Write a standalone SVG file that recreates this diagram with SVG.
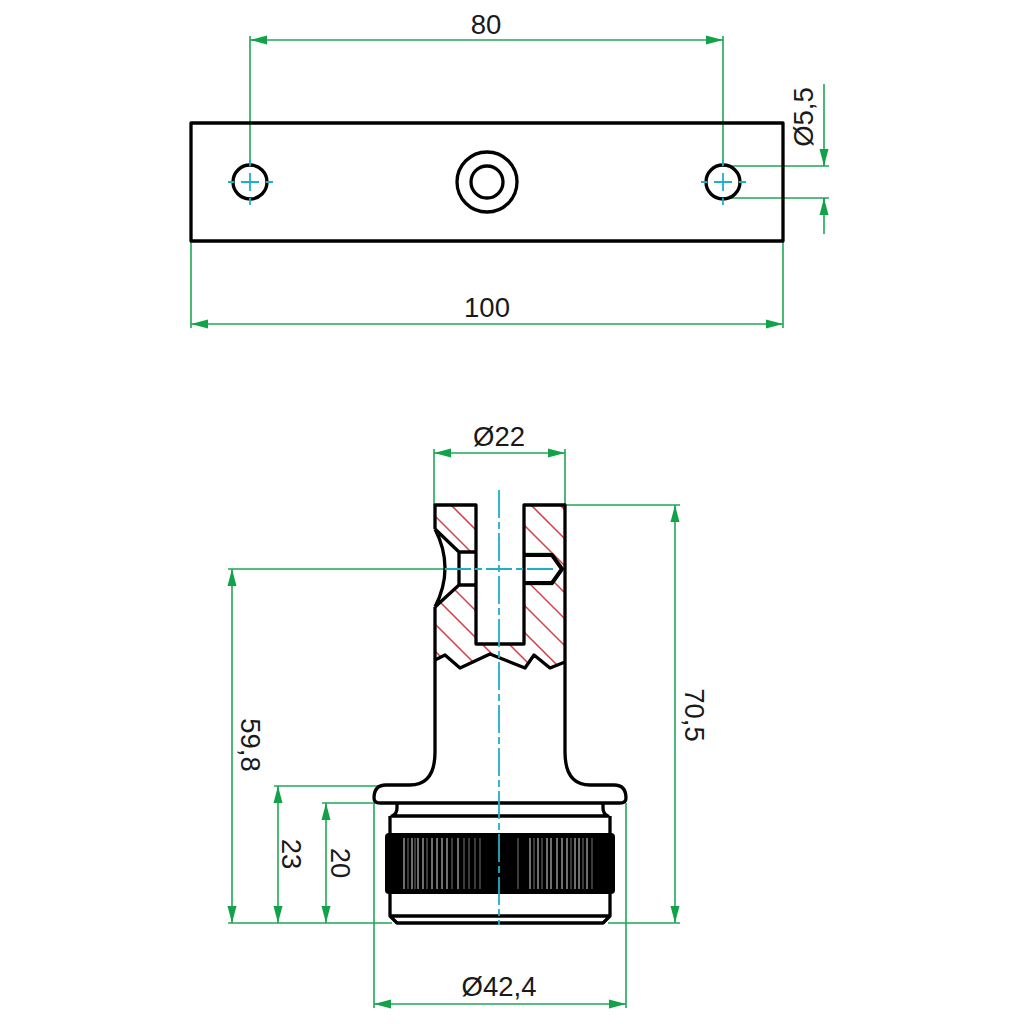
<svg xmlns="http://www.w3.org/2000/svg" width="1024" height="1024" viewBox="0 0 1024 1024">
<style>
.o{fill:none;stroke:#000;stroke-width:3.3;stroke-linejoin:round}
.d{fill:none;stroke:#1fa855;stroke-width:1.6}
.a{marker-start:url(#as);marker-end:url(#ae)}
.c{fill:none;stroke:#1fb0c6;stroke-width:1.8}
.h{stroke:#d83a42;stroke-width:1.5}
.k{stroke:#ddd;stroke-width:1}
.k2{stroke:#777;stroke-width:1}
text{font-family:"Liberation Sans",Arial,sans-serif;font-size:27.5px;fill:#1a1a1a;text-anchor:middle}
</style>
<defs>
<marker id="ae" markerUnits="userSpaceOnUse" markerWidth="18" markerHeight="10" refX="17" refY="5" orient="auto"><path d="M0 .5L17 5L0 9.500z" fill="#12a34a"/></marker>
<marker id="as" markerUnits="userSpaceOnUse" markerWidth="18" markerHeight="10" refX="1" refY="5" orient="auto"><path d="M18 .5L1 5L18 9.500z" fill="#12a34a"/></marker>
<clipPath id="sec"><path d="M435 505H476V552H459L435 529zM524 505H565V660L550 668L534 655L525 668L490 654L460 668L445 655L435 660V607L459 585H476V644H524V583H552L562 569L552 555H524z"/></clipPath>
</defs>
<g id="connectors">
<path class="d a" d="M250 40H723"/><path class="d" d="M250 36V165M723 36V165"/>
<path class="d a" d="M191 324H783"/><path class="d" d="M191 241V328M783 241V328"/>
<path class="d" d="M824 84V166M824 198V234M723 166H829M723 198H829"/>
<path class="d" d="M824 149V166" marker-end="url(#ae)"/><path class="d" d="M824 215V198" marker-end="url(#ae)"/>
<path class="d a" d="M434 453H565"/><path class="d" d="M434 449V505M565 449V505"/>
<path class="d a" d="M675 505V923"/><path class="d" d="M565 505H680M608 923H680"/>
<path class="d a" d="M232 569V923"/><path class="d" d="M228 569H445M228 923H392"/>
<path class="d a" d="M278 786V923"/><path class="d" d="M274 786H380"/>
<path class="d a" d="M326 803V923"/><path class="d" d="M322 803H376"/>
<path class="d a" d="M374 1004H626"/><path class="d" d="M374 803V1008M626 803V1008"/>
<path class="d" d="M524 553.500H553M524 584.500H553"/>
</g>
<g id="plate">
<rect class="o" x="191" y="123" width="592" height="118"/>
<circle class="o" cx="250" cy="182" r="17"/><circle class="o" cx="723" cy="182" r="17"/>
<circle class="o" cx="487" cy="182" r="30"/><circle class="o" cx="487" cy="182" r="16"/>
<path class="c" d="M250 173V191M241 182H259M250 160V166M250 198V205M228 182H234M266 182H273M723 173V191M714 182H732M723 160V166M723 198V205M701 182H707M739 182H746"/>
</g>
<g id="section">
<g clip-path="url(#sec)">
<path class="h" d="M505 450L720 665M476 450L691 665M449 450L664 665M422 450L637 665M396 450L611 665M369 450L584 665M342 450L557 665M315 450L530 665M288 450L503 665M261 450L476 665M234 450L449 665"/>
</g>
<path class="o" d="M435 529V505H476V644H524V505H565V662M435 607V660"/>
<path class="o" d="M435 660L445 655L460 668L490 654L525 668L534 655L550 668L565 662"/>
<path class="o" d="M435 529Q455 568 435 607M435 529L459 552H476M459 552V585M435 607L459 585H476"/>
<path class="o" style="stroke-width:4" d="M524 555H552L562 569L552 583H524"/>
</g>
<g id="base">
<path class="o" d="M435 660V752C435 772 428 785 410 785H386Q374 785 374 798Q374 803 380 803H620Q626 803 626 798Q626 785 614 785H590C572 785 565 772 565 752V662"/>
<path class="o" d="M397 803V808Q397 814 392 816H608Q603 814 603 808V803"/>
<path class="o" d="M390 816V833M610 816V833M390 894V916L397 923H603L610 916V894M390 916H610"/>
<rect x="385" y="833" width="230" height="61" rx="4" fill="#000"/>
<path class="k" d="M404 838V889M412 838V889M418 838V889M423 838V889M432 838V889M437 838V889M442 838V889M447 838V889M458 838V889M530 838V889M538 838V889M547 838V889M551 838V889M557 838V889M562 838V889M567 838V889M575 838V889M579 838V889M587 838V889"/>
<path class="k2" d="M408 838V889M415 838V889M427 838V889M452 838V889M464 838V889M469 838V889M475 838V889M480 838V889M518 838V889M534 838V889M542 838V889M571 838V889M583 838V889M592 838V889"/>
</g>
<g id="centerlines">
<path class="c" d="M499 490V925" stroke-dasharray="28 4 7 4"/>
<path class="c" d="M445 569H555" stroke-dasharray="26 4 7 4"/>
</g>
<g id="labels">
<text x="486" y="34">80</text>
<text x="487" y="317">100</text>
<text transform="translate(813 117) rotate(-90)">Ø5,5</text>
<text x="499" y="446">Ø22</text>
<text x="499" y="996">Ø42,4</text>
<text transform="translate(685 715) rotate(90)">70,5</text>
<text transform="translate(241 745) rotate(90)">59,8</text>
<text transform="translate(282 854) rotate(90)">23</text>
<text transform="translate(331 863) rotate(90)">20</text>
</g>
</svg>
